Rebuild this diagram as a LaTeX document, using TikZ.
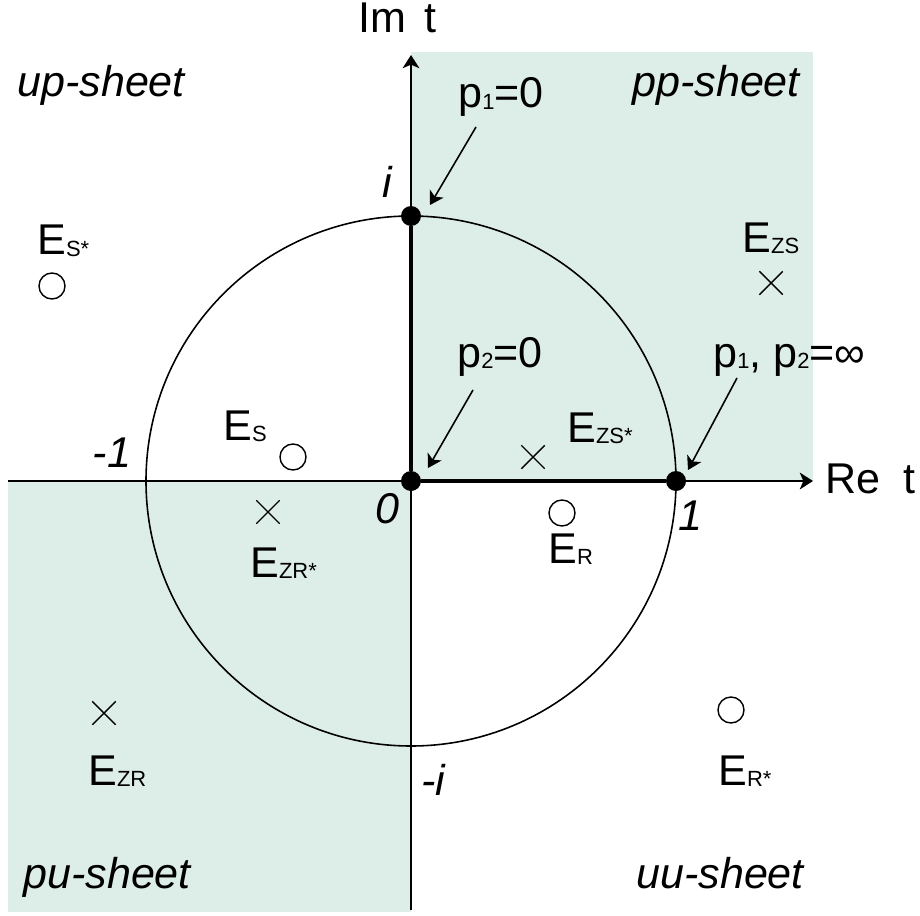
\documentclass[tikz,border=0pt]{standalone}
\usepackage{fontspec}
\setmainfont{Liberation Sans}
\usetikzlibrary{arrows.meta,shapes.misc}
\definecolor{sheetgreen}{RGB}{221,237,231}
\newcommand{\sbs}[1]{\raisebox{-1pt}{\fontsize{12.5}{12.5}\selectfont #1}}

\begin{document}
\begin{tikzpicture}[
  lbl/.style={anchor=base west, inner sep=0pt, font=\fontsize{24.5}{24.5}\selectfont},
  ilbl/.style={anchor=base, inner sep=0pt, font=\fontsize{24.5}{24.5}\selectfont\itshape},
  zero/.style={draw, circle, line width=0.8pt, inner sep=0pt, minimum size=0.52cm},
  pole/.style={draw, cross out, line width=0.8pt, inner sep=0pt, minimum size=0.44cm},
  branch/.style={circle, fill=black, inner sep=0pt, minimum size=0.4cm},
  callout/.style={line width=0.9pt, -{Stealth[length=7.5pt,width=9pt,inset=2pt]}}
]
\useasboundingbox (-8.22,-8.68) rectangle (10.18,9.62);

\coordinate[] (O) at (0,0);
\coordinate[] (W) at (-8.06,0);
\coordinate[] (E) at (8.04,0);
\coordinate[] (S) at (0,-8.58);
\coordinate[] (N) at (0,8.52);
\coordinate[] (A1) at (1.3,7.08);
\coordinate[] (B1) at (0.38,5.52);
\coordinate[] (A2) at (1.24,1.82);
\coordinate[] (B2) at (0.34,0.26);
\coordinate[] (A3) at (6.52,2.06);
\coordinate[] (B3) at (5.54,0.22);

% sheets
\fill[sheetgreen] (0,0) rectangle (8.04,8.58);
\fill[sheetgreen] (-8.06,-8.62) rectangle (0,0);

\draw [line width=0.9pt] (O) circle (5.3);
\draw [line width=1.1pt, -{Stealth[length=7.5pt,width=9.5pt,inset=2pt]}] (W) -- (E);
\draw [line width=1.1pt, -{Stealth[length=7.5pt,width=9.5pt,inset=2pt]}] (S) -- (N);

\node[branch] (I) at (0,5.3) {};
\node[branch] (Z) at (O) {};
\node[branch] (U) at (5.3,0) {};
\draw [line width=2.3pt] (I) -- (Z) -- (U);

\draw [callout] (A1) -- (B1);
\draw [callout] (A2) -- (B2);
\draw [callout] (A3) -- (B3);

% axis labels
\node[lbl] (imt) at (-1.06,8.96) {Im\hspace{0.36cm}t};
\node[lbl] (ret) at (8.28,-0.24) {Re\hspace{0.47cm}t};
\node[ilbl] (li) at (-0.48,5.66) {i};
\node[ilbl] (l0) at (-0.48,-0.84) {0};
\node[ilbl] (l1) at (5.58,-0.98) {1};
\node[ilbl] (lm1) at (-5.98,0.28) {-1};
\node[ilbl] (lmi) at (0.44,-6.28) {-i};

% sheet names
\node[lbl, font=\fontsize{24.5}{24.5}\selectfont\itshape] (up) at (-7.88,7.68) {up-sheet};
\node[lbl, font=\fontsize{24.5}{24.5}\selectfont\itshape] (pp) at (4.42,7.68) {pp-sheet};
\node[lbl, font=\fontsize{24.5}{24.5}\selectfont\itshape] (pu) at (-7.76,-8.14) {pu-sheet};
\node[lbl, font=\fontsize{24.5}{24.5}\selectfont\itshape] (uu) at (4.5,-8.14) {uu-sheet};

% branch points
\node[lbl] (p1) at (0.94,7.46) {p\sbs{1}=0};
\node[lbl] (p2) at (0.92,2.28) {p\sbs{2}=0};
\node[lbl] (pinf) at (6.04,2.28) {p\sbs{1}, p\sbs{2}=∞};

% zeros and poles
\node[zero] (Ess) at (-7.18,3.9) {};
\node[lbl] at (-7.48,4.52) {E\sbs{S*}};
\node[pole] (Ezs) at (7.2,3.96) {};
\node[lbl] at (6.62,4.58) {E\sbs{ZS}};
\node[zero] (Es) at (-2.36,0.48) {};
\node[lbl] at (-3.76,0.82) {E\sbs{S}};
\node[pole] (Ezss) at (2.44,0.48) {};
\node[lbl] at (3.12,0.78) {E\sbs{ZS*}};
\node[pole] (Ezrs) at (-2.86,-0.62) {};
\node[lbl] at (-3.22,-1.92) {E\sbs{ZR*}};
\node[zero] (Er) at (3.02,-0.64) {};
\node[lbl] at (2.74,-1.64) {E\sbs{R}};
\node[pole] (Ezr) at (-6.14,-4.64) {};
\node[lbl] at (-6.46,-6.08) {E\sbs{ZR}};
\node[zero] (Ers) at (6.4,-4.58) {};
\node[lbl] at (6.14,-6.08) {E\sbs{R*}};

\end{tikzpicture}
\end{document}
